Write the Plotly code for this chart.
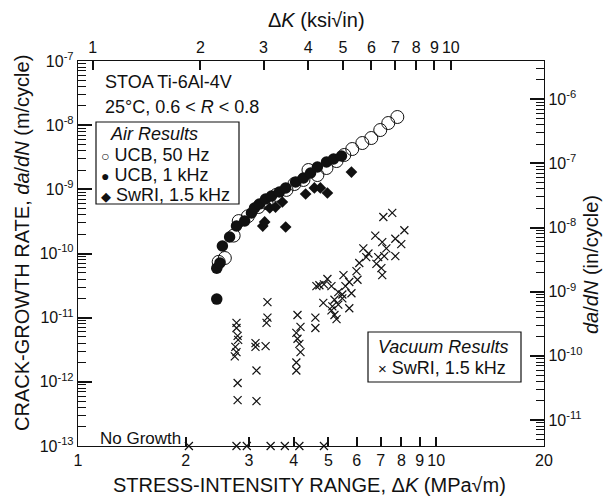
import math
import plotly.graph_objects as go

# ---------------- data ----------------
# Air, UCB 50 Hz (open circles): dK [MPa sqrt(m)], da/dN [m/cycle]
ucb50_dk = [2.47, 2.57, 2.72, 2.81, 2.98, 3.19, 3.36, 3.58, 3.82, 4.02, 4.26,
            4.40, 4.66, 4.94, 5.27, 5.54, 5.83, 6.22, 6.59, 6.98, 7.35, 7.79]
ucb50_rate = [7.4e-11, 8.5e-11, 1.9e-10, 3.2e-10, 3.8e-10, 5.3e-10, 6.1e-10,
              8.2e-10, 9.8e-10, 1.21e-9, 1.40e-9, 2.0e-9, 1.67e-9, 2.15e-9,
              2.76e-9, 3.43e-9, 4.25e-9, 5.27e-9, 6.31e-9, 8.4e-9, 1.08e-8, 1.34e-8]

# Air, UCB 1 kHz (filled circles)
ucb1k_dk = [2.44, 2.44, 2.49, 2.53, 2.65, 2.77, 2.92, 3.05, 3.11, 3.21, 3.34,
            3.47, 3.65, 3.80, 4.05, 4.26, 4.46, 4.66, 4.94, 5.17, 5.44]
ucb1k_rate = [1.95e-11, 5.9e-11, 7.1e-11, 1.31e-10, 1.81e-10, 2.68e-10, 3.21e-10,
              4.28e-10, 5.12e-10, 5.91e-10, 7.07e-10, 7.87e-10, 9.09e-10, 1.05e-9,
              1.30e-9, 1.50e-9, 1.80e-9, 2.23e-9, 2.67e-9, 2.97e-9, 3.31e-9]

# Air, SwRI 1.5 kHz (filled diamonds)
swri_air_dk = [3.28, 3.32, 3.43, 3.56, 3.72, 3.80, 4.32, 4.57, 4.75, 4.97, 5.80]
swri_air_rate = [2.68e-10, 3.10e-10, 5.12e-10, 5.30e-10, 6.35e-10, 2.59e-10,
                 8.46e-10, 1.05e-9, 1.05e-9, 8.77e-10, 1.86e-9]

# Vacuum, SwRI 1.5 kHz (crosses)
swri_vac_dk = [7.12, 7.54, 8.15, 6.76, 7.07, 7.69, 7.99, 7.26, 6.26, 6.47,
               6.38, 6.89, 7.16, 7.69, 6.10, 6.81, 7.03, 5.99, 7.07, 5.51,
               6.03, 5.72, 5.58, 4.97, 4.63, 4.72, 4.86, 5.10, 5.33, 5.47,
               5.80, 5.20, 5.47, 4.84, 5.13, 5.33, 5.72, 5.10, 5.20, 5.27,
               4.60, 4.60, 4.10, 4.18, 4.07, 4.10, 4.15, 4.18, 4.07, 4.07,
               3.38, 3.38, 3.36, 3.13, 3.13, 3.34, 3.15, 3.15,
               2.77, 2.77, 2.79, 2.80, 2.75, 2.77, 2.74, 2.79, 2.79]
swri_vac_rate = [3.7e-10, 4.3e-10, 2.3e-10, 1.9e-10, 1.5e-10, 1.7e-10, 1.4e-10, 1.2e-10, 1.2e-10, 1.0e-10,
                 8.8e-11, 8.8e-11, 9.1e-11, 9.1e-11, 7.1e-11, 6.9e-11, 5.9e-11, 5.3e-11, 4.6e-11, 4.6e-11,
                 3.9e-11, 3.6e-11, 3.1e-11, 4.0e-11, 3.1e-11, 3.2e-11, 3.3e-11, 3.1e-11, 2.5e-11, 2.3e-11,
                 2.4e-11, 1.9e-11, 2.0e-11, 1.7e-11, 1.5e-11, 1.6e-11, 1.4e-11, 1.3e-11, 1.1e-11, 9.5e-12,
                 1.0e-11, 6.9e-12, 1.1e-11, 7.2e-12, 5.8e-12, 4.7e-12, 3.9e-12, 2.9e-12, 2.0e-12, 1.5e-12,
                 1.75e-11, 1.0e-11, 8.3e-12, 4.0e-12, 3.5e-12, 3.6e-12, 1.5e-12, 5.0e-13,
                 8.3e-12, 6.9e-12, 5.2e-12, 4.5e-12, 3.5e-12, 2.9e-12, 2.5e-12, 9.6e-13, 5.2e-13]

# Vacuum "No Growth" points, plotted on the 1e-13 floor
nogrowth_dk = [2.04, 2.77, 2.96, 3.45, 3.78, 4.15, 4.86]
nogrowth_rate = [1e-13] * len(nogrowth_dk)

# axis ranges / ticks
x_range = [1, 20]                       # MPa sqrt(m)
y_range = [1e-13, 1e-7]                 # m/cycle
x_ticks = [1, 2, 3, 4, 5, 6, 7, 8, 9, 10, 20]
top_ticks = [1, 2, 3, 4, 5, 6, 7, 8, 9, 10]        # ksi sqrt(in)
left_exps = [-13, -12, -11, -10, -9, -8, -7]
right_exps = [-11, -10, -9, -8, -7, -6]
KSI_PER_MPA = 1 / 1.0988                # 1 ksi sqrt(in) = 1.0988 MPa sqrt(m)
IN_PER_M = 39.37

# ---------------- layout helpers ----------------
W, H = 608, 499
L, R, T, B = 78, 544, 61, 446
FONT = "Liberation Sans, Arial, Helvetica, sans-serif"
INK = "#111111"


def pxx(x):
    return (x - L) / (R - L)


def pxy(y):
    return (B - y) / (B - T)


def minor_vals(e0, e1):
    return [k * 10.0 ** e for e in range(e0, e1) for k in range(2, 10)]


fig = go.Figure()

fig.add_trace(go.Scatter(x=ucb50_dk, y=ucb50_rate, mode="markers", name="UCB, 50 Hz",
                         marker=dict(symbol="circle-open", size=13, color=INK,
                                     line=dict(width=1, color=INK))))
fig.add_trace(go.Scatter(x=ucb1k_dk, y=ucb1k_rate, mode="markers", name="UCB, 1 kHz",
                         marker=dict(symbol="circle", size=11.5, color=INK)))
fig.add_trace(go.Scatter(x=swri_air_dk, y=swri_air_rate, mode="markers", name="SwRI, 1.5 kHz",
                         marker=dict(symbol="diamond", size=9, color=INK)))
fig.add_trace(go.Scatter(x=swri_vac_dk, y=swri_vac_rate, mode="markers", name="SwRI vacuum",
                         marker=dict(symbol="x-thin", size=8, color=INK,
                                     line=dict(width=1.2, color=INK))))
fig.add_trace(go.Scatter(x=nogrowth_dk, y=nogrowth_rate, mode="markers", name="No growth",
                         cliponaxis=False,
                         marker=dict(symbol="x-thin", size=8, color=INK,
                                     line=dict(width=1.2, color=INK))))
# empty trace so that the secondary (ksi / in-per-cycle) axes are drawn
fig.add_trace(go.Scatter(x=[], y=[], xaxis="x2", yaxis="y2", mode="markers"))

axis_common = dict(type="log", showline=True, linecolor=INK, linewidth=1.4,
                   showgrid=False, zeroline=False, ticks="inside", tickcolor=INK,
                   tickwidth=1.5, layer="above traces",
                   tickfont=dict(family=FONT, size=16, color=INK))

fig.update_layout(
    width=W, height=H,
    margin=dict(l=L, r=W - R, t=T, b=H - B),
    paper_bgcolor="white", plot_bgcolor="white",
    showlegend=False,
    xaxis=dict(**axis_common, range=[math.log10(x_range[0]), math.log10(x_range[1])],
               tickmode="array", tickvals=x_ticks, ticktext=[str(v) for v in x_ticks],
               ticklen=9),
    xaxis2=dict(**axis_common, overlaying="x", side="top", anchor="y2",
                range=[math.log10(x_range[0] * KSI_PER_MPA), math.log10(x_range[1] * KSI_PER_MPA)],
                tickmode="array", tickvals=top_ticks, ticktext=[str(v) for v in top_ticks],
                ticklen=9),
    yaxis=dict(**axis_common, range=[math.log10(y_range[0]), math.log10(y_range[1])],
               tickmode="array", tickvals=[10.0 ** e for e in left_exps],
               ticktext=["10<sup>%d</sup>" % e for e in left_exps], ticklen=14,
               minor=dict(ticks="inside", tickvals=minor_vals(-13, -7), ticklen=8,
                          tickcolor=INK, tickwidth=1.3)),
    yaxis2=dict(**axis_common, overlaying="y", side="right", anchor="x2",
                range=[math.log10(y_range[0] * IN_PER_M), math.log10(y_range[1] * IN_PER_M)],
                tickmode="array", tickvals=[10.0 ** e for e in right_exps],
                ticktext=["10<sup>%d</sup>" % e for e in right_exps], ticklen=14,
                minor=dict(ticks="inside", tickvals=minor_vals(-12, -5), ticklen=8,
                           tickcolor=INK, tickwidth=1.3)),
)

ann = []


def text(x, y, s, size=18, xanchor="left", angle=0):
    ann.append(dict(x=pxx(x), y=pxy(y), xref="paper", yref="paper", text=s,
                    showarrow=False, xanchor=xanchor, yanchor="middle", textangle=angle,
                    font=dict(family=FONT, size=size, color=INK)))


# axis titles
text(316, 20, "Δ<i>K</i> (ksi√in)", size=20, xanchor="center")
text(309, 485, "STRESS-INTENSITY RANGE, Δ<i>K</i> (MPa√m)", size=20, xanchor="center")
text(22, 243, "CRACK-GROWTH RATE, <i>da</i>/<i>dN</i> (m/cycle)", size=20, xanchor="center", angle=-90)
text(591, 265, "<i>da</i>/<i>dN</i> (in/cycle)", size=20, xanchor="center", angle=-90)

# header text
text(103, 82, "STOA Ti-6Al-4V", size=18)
text(103, 107, "25°C, 0.6 &lt; <i>R</i> &lt; 0.8", size=18)

# air legend
text(108, 134, "<i>Air Results</i>", size=18)
text(99, 155, "<span style='font-size:14px'>○</span> UCB, 50 Hz", size=18)
text(99, 175, "<span style='font-size:14px'>●</span> UCB, 1 kHz", size=18)
text(99, 195, "<span style='font-size:13px'>◆</span> SwRI, 1.5 kHz", size=18)

# vacuum legend
text(376, 347, "<i>Vacuum Results</i>", size=18)
text(376, 368, "<span style='font-size:15px'>×</span> SwRI, 1.5 kHz", size=18)

# no growth label
text(98, 438, "No Growth", size=17)

fig.update_layout(annotations=ann)

shapes = [
    dict(type="rect", xref="paper", yref="paper", x0=pxx(96), x1=pxx(239),
         y0=pxy(122), y1=pxy(204), line=dict(color=INK, width=1.2)),
    dict(type="rect", xref="paper", yref="paper", x0=pxx(368), x1=pxx(521),
         y0=pxy(332), y1=pxy(382), line=dict(color=INK, width=1.2)),
]
fig.update_layout(shapes=shapes)

fig.write_html("out.html")
